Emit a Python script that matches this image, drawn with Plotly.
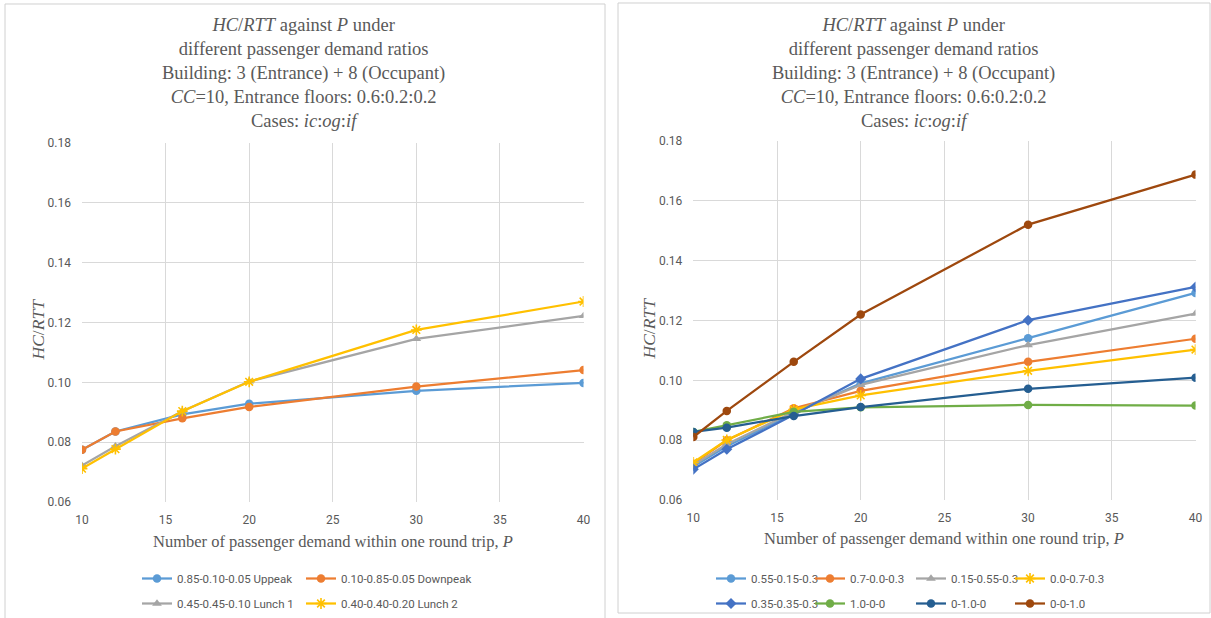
import plotly.graph_objects as go

P = [10, 12, 16, 20, 30, 40]

# Left chart series
left_names = ["0.85-0.10-0.05 Uppeak", "0.10-0.85-0.05 Downpeak",
              "0.45-0.45-0.10 Lunch 1", "0.40-0.40-0.20 Lunch 2"]
uppeak = [0.0775, 0.0836, 0.0893, 0.0929, 0.0972, 0.0998]
downpeak = [0.0775, 0.0836, 0.0880, 0.0918, 0.0986, 0.1041]
lunch1 = [0.0722, 0.0787, 0.0904, 0.1003, 0.1145, 0.1222]
lunch2 = [0.0712, 0.0777, 0.0904, 0.1002, 0.1175, 0.1270]
left_values = [uppeak, downpeak, lunch1, lunch2]

# Right chart series
right_names = ["0.55-0.15-0.3", "0.7-0.0-0.3", "0.15-0.55-0.3", "0.0-0.7-0.3",
               "0.35-0.35-0.3", "1.0-0-0", "0-1.0-0", "0-0-1.0"]
r_055 = [0.0712, 0.0780, 0.0890, 0.0990, 0.1141, 0.1292]
r_07 = [0.0722, 0.0800, 0.0907, 0.0965, 0.1062, 0.1139]
r_015 = [0.0717, 0.0787, 0.0895, 0.0985, 0.1118, 0.1223]
r_00 = [0.0726, 0.0801, 0.0903, 0.0950, 0.1032, 0.1103]
r_035 = [0.0703, 0.0770, 0.0885, 0.1005, 0.1201, 0.1312]
r_10 = [0.0828, 0.0850, 0.0895, 0.0910, 0.0918, 0.0916]
r_01 = [0.0828, 0.0842, 0.0881, 0.0911, 0.0972, 0.1009]
r_001 = [0.0811, 0.0898, 0.1062, 0.1220, 0.1520, 0.1687]
right_values = [r_055, r_07, r_015, r_00, r_035, r_10, r_01, r_001]

y_ticks = [0.06, 0.08, 0.10, 0.12, 0.14, 0.16, 0.18]
x_ticks = [10, 15, 20, 25, 30, 35, 40]

left_colors = ["#5B9BD5", "#ED7D31", "#A5A5A5", "#FFC000"]
left_symbols = ["circle", "circle", "triangle-up", "asterisk-open"]
right_colors = ["#5B9BD5", "#ED7D31", "#A5A5A5", "#FFC000",
                "#4472C4", "#70AD47", "#255E91", "#9E480E"]
right_symbols = ["circle", "circle", "triangle-up", "asterisk-open",
                 "diamond", "circle", "circle", "circle"]

W, H = 1211, 618
GRID = "#D9D9D9"
TXT = "#595959"
SERIF = "Liberation Serif"


def px_x(p):
    return p / W


def px_y(p):
    return 1 - p / H


def marker(sym, col):
    if sym == "asterisk-open":
        return dict(symbol=sym, size=9, color=col, line=dict(color=col, width=1.6))
    return dict(symbol=sym, size=8.5, color=col)


fig = go.Figure()

# legends: one column each, two rows (x positions in px)
left_cols_px = [142, 306]
right_cols_px = [716, 815, 916, 1015]

for i, (n, v) in enumerate(zip(left_names, left_values)):
    lid = "legend" if i % 2 == 0 else "legend2"
    fig.add_trace(go.Scatter(
        x=P, y=v, name=n, mode="lines+markers",
        line=dict(color=left_colors[i], width=2.25),
        marker=marker(left_symbols[i], left_colors[i]),
        xaxis="x", yaxis="y", legend=lid, legendgroup="L%d" % i))

for i, (n, v) in enumerate(zip(right_names, right_values)):
    lid = "legend%d" % (3 + i % 4)
    fig.add_trace(go.Scatter(
        x=P, y=v, name=n, mode="lines+markers",
        line=dict(color=right_colors[i], width=2.25),
        marker=marker(right_symbols[i], right_colors[i]),
        xaxis="x2", yaxis="y2", legend=lid, legendgroup="R%d" % i))

axis_common = dict(showgrid=True, gridcolor=GRID, gridwidth=1, zeroline=False,
                   showline=False, ticks="", automargin=False,
                   tickfont=dict(family="Roboto", size=12, color=TXT))

legend_common = dict(orientation="v", traceorder="grouped", tracegroupgap=6,
                     font=dict(family="Roboto", size=11.5, color=TXT),
                     bgcolor="rgba(0,0,0,0)", itemwidth=30, indentation=-5,
                     yanchor="top", y=px_y(565), xanchor="left")

layout_legends = {}
layout_legends["legend"] = dict(x=px_x(left_cols_px[0]), **legend_common)
layout_legends["legend2"] = dict(x=px_x(left_cols_px[1]), **legend_common)
for k in range(4):
    layout_legends["legend%d" % (3 + k)] = dict(x=px_x(right_cols_px[k]), **legend_common)

fig.update_layout(
    width=W, height=H,
    margin=dict(l=0, r=0, t=0, b=0),
    paper_bgcolor="white", plot_bgcolor="white",
    showlegend=True,
    xaxis=dict(domain=[px_x(82), px_x(583.5)], range=[10, 40], tickvals=x_ticks,
               anchor="y", ticklabelstandoff=9, **axis_common),
    yaxis=dict(domain=[px_y(503), px_y(143)], range=[0.06, 0.18], tickvals=y_ticks,
               tickformat=".2f", anchor="x", ticklabelstandoff=10, **axis_common),
    xaxis2=dict(domain=[px_x(693.3), px_x(1195.5)], range=[10, 40], tickvals=x_ticks,
                anchor="y2", ticklabelstandoff=9, **axis_common),
    yaxis2=dict(domain=[px_y(501), px_y(141)], range=[0.06, 0.18], tickvals=y_ticks,
                tickformat=".2f", anchor="x2", ticklabelstandoff=10, **axis_common),
    **layout_legends,
)

# panel borders
fig.add_shape(type="rect", xref="paper", yref="paper",
              x0=px_x(5), x1=px_x(605), y0=px_y(620), y1=px_y(4),
              line=dict(color="#D0D0D0", width=1), layer="below")
fig.add_shape(type="rect", xref="paper", yref="paper",
              x0=px_x(618), x1=px_x(1210), y0=px_y(614), y1=px_y(3),
              line=dict(color="#D0D0D0", width=1), layer="below")

title_text = ("<i>HC</i>/<i>RTT</i> against <i>P</i> under<br>"
              "different passenger demand ratios<br>"
              "Building: 3 (Entrance) + 8 (Occupant)<br>"
              "<i>CC</i>=10, Entrance floors: 0.6:0.2:0.2<br>"
              "Cases: <i>ic</i>:<i>og</i>:<i>if</i>")
for cx in (303, 913):
    fig.add_annotation(text=title_text, xref="paper", yref="paper",
                       x=px_x(cx), y=px_y(13), xanchor="center", yanchor="top",
                       showarrow=False, align="center",
                       font=dict(family=SERIF, size=18.5, color=TXT))

xtitle = "Number of passenger demand within one round trip, <i>P</i>"
for cx, cy in ((333, 542), (944, 539)):
    fig.add_annotation(text=xtitle, xref="paper", yref="paper",
                       x=px_x(cx), y=px_y(cy), xanchor="center", yanchor="middle",
                       showarrow=False, font=dict(family=SERIF, size=16.5, color=TXT))

for cx, cy in ((38, 330), (649, 329)):
    fig.add_annotation(text="<i>HC</i>/<i>RTT</i>", xref="paper", yref="paper",
                       x=px_x(cx), y=px_y(cy), xanchor="center", yanchor="middle",
                       textangle=-90, showarrow=False,
                       font=dict(family=SERIF, size=17.5, color=TXT))

fig.write_html("out.html")
